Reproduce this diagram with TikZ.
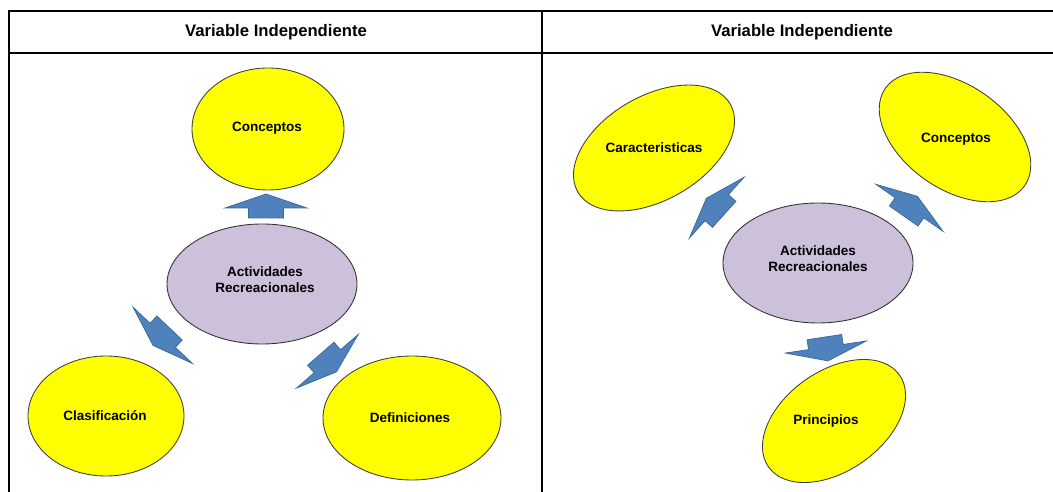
\documentclass[tikz,border=0pt]{standalone}
\usepackage{fontspec}
\setmainfont{Liberation Sans}
\usepackage{xcolor}
\definecolor{azul}{HTML}{4F81BD}
\definecolor{azulborde}{HTML}{3A6796}
\definecolor{lila}{HTML}{CCC0DA}
\definecolor{amarillo}{HTML}{FFFF00}
\def\flecha#1#2#3{\draw[flechazul,shift={(#1,#2)},rotate=#3] (13,0) -- (-1,41) -- (-1,17.5) -- (-11,17.5) -- (-11,-17.5) -- (-1,-17.5) -- (-1,-41) -- cycle;}
\usetikzlibrary{positioning}

\begin{document}
\begin{tikzpicture}[x=0.02cm,y=-0.02cm,
		flechazul/.style={fill=azul,draw=azulborde,line width=0.4pt,line join=miter},
		amarilla/.style={fill=amarillo,draw=black!75,line width=0.5pt},
		central/.style={fill=lila,draw=black!80,line width=0.5pt},
		texto/.style={font=\bfseries\fontsize{7.7}{9}\selectfont,align=center,inner sep=0pt},
		titulo/.style={font=\bfseries\fontsize{9.5}{11}\selectfont,inner sep=0pt}]
			\useasboundingbox (0,0) rectangle (1053,492);
			% tabla
			\draw[line width=1.2pt] (9,492) -- (9,11) -- (1053,11);
			\draw[line width=1.2pt] (9,53) -- (1053,53);
			\draw[line width=1.2pt] (542,11) -- (542,492);
			\node[titulo] (tituloA) at (276,32) {Variable Independiente};
			\node[titulo] (tituloB) at (802,32) {Variable Independiente};
			% primer cuadro
			\draw[amarilla] (268,129) ellipse (76 and 61);
			\draw[central] (262,284) ellipse (95 and 60);
			\draw[amarilla] (106,416) ellipse (78 and 60);
			\draw[amarilla] (412,418) ellipse (89 and 62);
			\node[texto] (concA) at (267,128) {Conceptos};
			\node[texto] (actA) at (265,280) {Actividades\\Recreacionales};
			\node[texto] (clas) at (105,416) {Clasificación};
			\node[texto] (defi) at (410,418) {Definiciones};
			\flecha{266}{207}{90}
			\flecha{162}{336}{-133.5}
			\flecha{328}{362}{-49}
			% segundo cuadro
			\draw[amarilla,rotate around={30:(654,148)}] (654,148) ellipse (88 and 52);
			\draw[amarilla,rotate around={-35:(955,137)}] (955,137) ellipse (85 and 52);
			\draw[central] (818,263) ellipse (95 and 60);
			\draw[amarilla,rotate around={35:(834,421)}] (834,421) ellipse (80 and 50);
			\node[texto] (cara) at (654,148) {Caracteristicas};
			\node[texto] (concB) at (956,139) {Conceptos};
			\node[texto] (actB) at (818,259) {Actividades\\Recreacionales};
			\node[texto] (prin) at (826,421) {Principios};
			\flecha{716}{207}{138}
			\flecha{910}{207}{55}
			\flecha{826}{348}{-81.5}
	    \end{tikzpicture}
\end{document}
